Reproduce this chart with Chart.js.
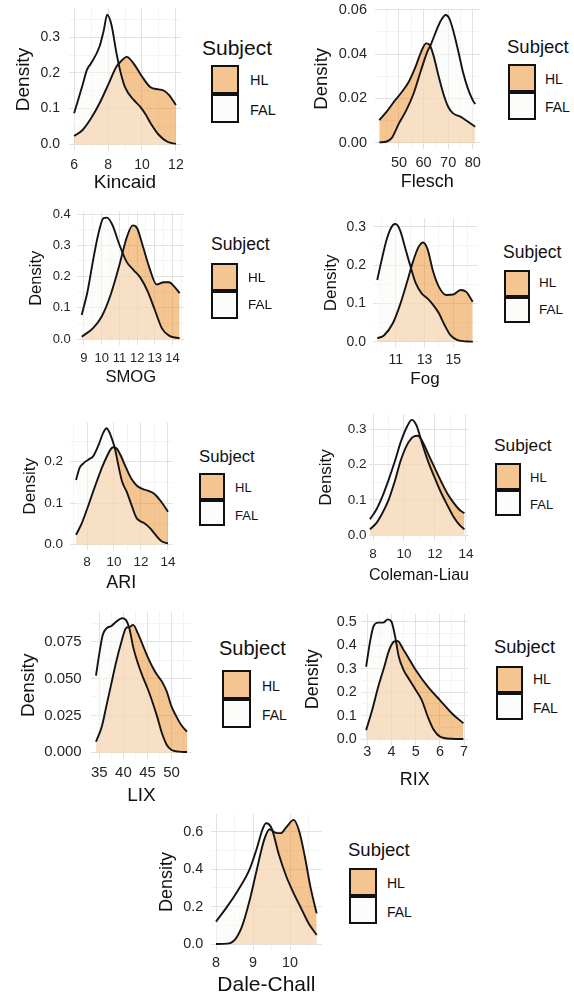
<!DOCTYPE html>
<html lang="en">
<head>
<meta charset="UTF-8">
<title>Readability density by subject</title>
<style>
  html, body { margin: 0; padding: 0; background: #fff; overflow: hidden; }
  body { position: relative; width: 574px; height: 994px; font-family: 'Liberation Sans', Arial, Helvetica, sans-serif; }
  canvas { position: absolute; }
  .lg-text { position: absolute; color: #111; white-space: nowrap; line-height: 1; }
  .lg-key { position: absolute; box-sizing: border-box; border: 2px solid #111; }
</style>
</head>
<body>
<script src="https://cdn.jsdelivr.net/npm/chart.js"></script>
<script>
// density curves, [score, density]
const kincaidHL  = [[6,0.023],[6.5,0.04],[7,0.073],[7.5,0.115],[8,0.166],[8.5,0.218],[8.75,0.232],[9.1,0.245],[9.5,0.227],[10,0.19],[10.5,0.16],[11,0.154],[11.3,0.15],[11.6,0.138],[12,0.11]];
const kincaidFAL = [[6,0.087],[6.5,0.166],[6.75,0.208],[7,0.227],[7.5,0.274],[7.75,0.32],[7.95,0.363],[8.2,0.335],[8.5,0.255],[8.75,0.2],[9,0.16],[9.5,0.125],[9.9,0.105],[10.2,0.085],[10.5,0.06],[11,0.026],[11.5,0.007],[12,0.001]];

const fleschHL  = [[42,0.0102],[45,0.014],[48,0.0185],[51,0.0226],[54,0.0275],[57,0.035],[59,0.041],[61,0.0448],[62.5,0.044],[64,0.0395],[66,0.0305],[68,0.0223],[70,0.0162],[72,0.0132],[75,0.0117],[78,0.0095],[81,0.0072]];
const fleschFAL = [[42,0.0001],[45,0.0005],[47,0.002],[50,0.0087],[53,0.0147],[56,0.0223],[59,0.0328],[61.5,0.041],[63,0.0444],[65,0.05],[67,0.055],[69,0.0576],[70.5,0.056],[72,0.0508],[74,0.0418],[76,0.032],[78,0.0245],[80,0.0192],[81,0.0174]];

const smogHL  = [[8.87,0.0075],[9.5,0.034],[10,0.072],[10.5,0.141],[11,0.237],[11.4,0.323],[11.75,0.364],[12,0.355],[12.3,0.302],[12.7,0.227],[13.1,0.175],[13.5,0.182],[13.8,0.182],[14.1,0.168],[14.4,0.147]];
const smogFAL = [[8.87,0.077],[9.2,0.152],[9.5,0.248],[9.8,0.334],[10.1,0.387],[10.3,0.389],[10.6,0.366],[11,0.302],[11.4,0.248],[11.8,0.221],[12.2,0.195],[12.6,0.152],[13,0.093],[13.4,0.034],[13.8,0.011],[14.4,0.002]];

const fogHL  = [[9.72,0.009],[10.2,0.017],[10.8,0.048],[11.3,0.096],[11.8,0.157],[12.2,0.209],[12.6,0.248],[12.9,0.259],[13.2,0.243],[13.6,0.183],[14,0.143],[14.5,0.122],[15,0.123],[15.5,0.135],[15.9,0.13],[16.35,0.104]];
const fogFAL = [[9.72,0.161],[10,0.209],[10.4,0.27],[10.8,0.304],[11,0.307],[11.3,0.291],[11.7,0.239],[12,0.2],[12.4,0.152],[12.8,0.126],[13.2,0.113],[13.6,0.096],[14,0.074],[14.4,0.043],[14.8,0.017],[15.3,0.004],[16,0.0005],[16.35,0]];

const ariHL  = [[7.19,0.023],[7.6,0.05],[7.98,0.083],[8.35,0.118],[8.72,0.152],[9.1,0.185],[9.46,0.212],[9.75,0.23],[9.95,0.235],[10.2,0.232],[10.5,0.215],[10.9,0.185],[11.3,0.158],[11.7,0.142],[12.1,0.134],[12.5,0.13],[13,0.122],[13.5,0.103],[14,0.079]];
const ariFAL = [[7.19,0.156],[7.45,0.185],[7.73,0.196],[8.1,0.205],[8.47,0.214],[8.85,0.24],[9.2,0.27],[9.45,0.281],[9.65,0.272],[9.85,0.255],[10.07,0.232],[10.3,0.195],[10.6,0.152],[10.93,0.128],[11.3,0.095],[11.65,0.065],[11.95,0.056],[12.3,0.05],[12.67,0.039],[13.1,0.022],[13.5,0.008],[14,0.002]];

const colemanHL  = [[7.8,0.016],[8.2,0.033],[8.6,0.062],[9,0.099],[9.4,0.152],[9.8,0.213],[10.2,0.256],[10.6,0.279],[10.9,0.282],[11.2,0.265],[11.6,0.227],[12,0.189],[12.4,0.152],[12.8,0.118],[13.2,0.092],[13.6,0.071],[13.9,0.062]];
const colemanFAL = [[7.8,0.045],[8.2,0.071],[8.6,0.109],[9,0.156],[9.4,0.208],[9.8,0.265],[10.2,0.308],[10.5,0.327],[10.8,0.312],[11.2,0.256],[11.6,0.204],[12,0.161],[12.4,0.12],[12.8,0.085],[13.2,0.052],[13.6,0.028],[13.9,0.016]];

const lixHL  = [[34.3,0.0072],[35.5,0.0174],[36.5,0.032],[37.5,0.0467],[38.5,0.0614],[39.5,0.0738],[40.5,0.084],[41.3,0.085],[42,0.0863],[43,0.0806],[44,0.0727],[45,0.0648],[46,0.058],[47,0.0524],[48,0.0479],[49,0.0411],[50,0.0309],[51,0.0242],[52,0.0185],[53.2,0.014]];
const lixFAL = [[34.3,0.052],[35,0.067],[35.7,0.0795],[36.5,0.084],[37.5,0.0856],[38.5,0.0885],[39.7,0.0908],[40.5,0.0897],[41.3,0.083],[42,0.0716],[43,0.0603],[44,0.0513],[45,0.0434],[46,0.0343],[47,0.0242],[48,0.0129],[49,0.005],[50,0.0016],[51.5,0.0005],[53.2,0.0002]];

const rixHL  = [[2.95,0.038],[3.2,0.124],[3.45,0.223],[3.7,0.308],[3.9,0.379],[4.1,0.415],[4.25,0.418],[4.5,0.379],[4.75,0.337],[5,0.294],[5.5,0.223],[6,0.166],[6.5,0.109],[6.97,0.067]];
const rixFAL = [[2.95,0.308],[3.1,0.408],[3.25,0.479],[3.45,0.496],[3.65,0.496],[3.85,0.51],[4,0.5],[4.15,0.436],[4.3,0.351],[4.5,0.294],[4.75,0.251],[5,0.209],[5.25,0.166],[5.5,0.095],[5.75,0.038],[6,0.01],[6.5,0.001],[6.97,0]];

const daleHL  = [[8,0],[8.3,0.002],[8.5,0.021],[8.7,0.093],[8.9,0.227],[9.1,0.396],[9.3,0.557],[9.45,0.614],[9.6,0.596],[9.75,0.593],[9.9,0.625],[10.1,0.664],[10.25,0.602],[10.4,0.468],[10.55,0.307],[10.72,0.164]];
const daleFAL = [[8,0.12],[8.3,0.2],[8.6,0.289],[8.9,0.396],[9.1,0.51],[9.25,0.61],[9.35,0.646],[9.5,0.62],[9.7,0.477],[9.9,0.361],[10.1,0.271],[10.3,0.191],[10.5,0.111],[10.72,0.048]];

// tick labels
const kincaidXTicks = ['6','8','10','12'];       const kincaidYTicks = ['0.0','0.1','0.2','0.3'];
const fleschXTicks  = ['50','60','70','80'];     const fleschYTicks  = ['0.00','0.02','0.04','0.06'];
const smogXTicks    = ['9','10','11','12','13','14']; const smogYTicks = ['0.0','0.1','0.2','0.3','0.4'];
const fogXTicks     = ['11','13','15'];          const fogYTicks     = ['0.0','0.1','0.2','0.3'];
const ariXTicks     = ['8','10','12','14'];      const ariYTicks     = ['0.0','0.1','0.2'];
const colemanXTicks = ['8','10','12','14'];      const colemanYTicks = ['0.0','0.1','0.2','0.3'];
const lixXTicks     = ['35','40','45','50'];     const lixYTicks     = ['0.000','0.025','0.050','0.075'];
const rixXTicks     = ['3','4','5','6','7'];     const rixYTicks     = ['0.0','0.1','0.2','0.3','0.4','0.5'];
const daleXTicks    = ['8','9','10'];            const daleYTicks    = ['0.0','0.2','0.4','0.6'];

const groups = ['HL', 'FAL'];

Chart.defaults.font.family = "'Liberation Sans', Arial, Helvetica, sans-serif";

const HL_FILL = 'rgba(235,140,35,0.5)';
const FAL_FILL = 'rgba(249,249,247,0.52)';
const LINE = '#141414';
const MAJOR = '#e2e2e2';
const MINOR = '#efefef';
const TICK = '#262626';

// major ticks from the labels, minor ones half way between (ggplot style)
function gridValues(labels, lo, hi) {
  const major = labels.map(Number);
  const step = major[1] - major[0];
  const vals = major.slice();
  for (let i = 0; i < major.length - 1; i++) vals.push((major[i] + major[i + 1]) / 2);
  vals.push(major[0] - step / 2, major[major.length - 1] + step / 2);
  const all = vals.filter(v => v >= lo && v <= hi).sort((a, b) => a - b);
  const idx = v => major.findIndex(m => Math.abs(m - v) < 1e-9);
  return {
    all,
    isMajor: v => idx(v) >= 0,
    label: v => (idx(v) >= 0 ? labels[idx(v)] : '')
  };
}

const panels = [
  {xTitle:'Kincaid', hl:kincaidHL, fal:kincaidFAL, xt:kincaidXTicks, yt:kincaidYTicks,
   x:[5.7,12.3], y:[-0.018,0.381], plot:[69,181,8.4,150.7], axisLeft:14.5, yPad:9, xPad:7.3, axisH:40.8, tick:14, ySize:19, xSize:19,
   lg:{sx:202, sy:47, ss:21, bx:211, by:65, bw:28, bh:29, lx:250, ly:[80,110], ls:14.5}},
  {xTitle:'Flesch', hl:fleschHL, fal:fleschFAL, xt:fleschXTicks, yt:fleschYTicks,
   x:[40.05,82.95], y:[-0.00288,0.0605], plot:[374.5,480,8.6,149], axisLeft:312.75, yPad:7.5, xPad:7, axisH:42, tick:14.5, ySize:18.5, xSize:18,
   lg:{sx:507, sy:47, ss:18.5, bx:508, by:64, bw:28, bh:28, lx:545, ly:[79,107], ls:14}},
  {xTitle:'SMOG', hl:smogHL, fal:smogFAL, xt:smogXTicks, yt:smogYTicks,
   x:[8.6,14.68], y:[-0.0195,0.4085], plot:[76.9,184.6,211.5,345.1], axisLeft:28.45, yPad:6.2, xPad:6.4, axisH:40.2, tick:13, ySize:16.5, xSize:16.6,
   lg:{sx:211, sy:245, ss:17.6, bx:211, by:263, bw:27, bh:28, lx:248, ly:[278,305], ls:13.5}},
  {xTitle:'Fog', hl:fogHL, fal:fogFAL, xt:fogXTicks, yt:fogYTicks,
   x:[9.39,16.68], y:[-0.0154,0.322], plot:[372.5,477.5,218.3,347.6], axisLeft:323.2, yPad:6.5, xPad:5.4, axisH:39.9, tick:14, ySize:17, xSize:17,
   lg:{sx:503, sy:253, ss:17.5, bx:504, by:270, bw:26, bh:26.5, lx:539, ly:[283,310], ls:13.5}},
  {xTitle:'ARI', hl:ariHL, fal:ariFAL, xt:ariXTicks, yt:ariYTicks,
   x:[6.74,14.35], y:[-0.014,0.295], plot:[70,172.7,422.5,550.1], axisLeft:21.5, yPad:7, xPad:5.9, axisH:41.9, tick:13.5, ySize:17, xSize:18,
   lg:{sx:199, sy:457, ss:16.7, bx:199, by:473, bw:26, bh:26.5, lx:235, ly:[487,515], ls:13}},
  {xTitle:'Coleman-Liau', hl:colemanHL, fal:colemanFAL, xt:colemanXTicks, yt:colemanYTicks,
   x:[7.74,14.2], y:[-0.0164,0.343], plot:[369,469,414.2,540.8], axisLeft:318.2, yPad:2.5, xPad:7.2, axisH:42.4, tick:13.5, ySize:17, xSize:16.4,
   lg:{sx:494, sy:446, ss:17.3, bx:495, by:463, bw:26, bh:26.5, lx:530, ly:[477,504], ls:13}},
  {xTitle:'LIX', hl:lixHL, fal:lixFAL, xt:lixXTicks, yt:lixYTicks,
   x:[33.35,54.15], y:[-0.0045,0.0953], plot:[91.4,191.6,611.6,759], axisLeft:18.8, yPad:9.7, xPad:6.5, axisH:45.5, tick:15, ySize:19, xSize:19,
   lg:{sx:219, sy:648, ss:20, bx:221.7, by:670, bw:29, bh:29, lx:262, ly:[686,715], ls:14}},
  {xTitle:'RIX', hl:rixHL, fal:rixFAL, xt:rixXTicks, yt:rixYTicks,
   x:[2.75,7.17], y:[-0.0255,0.5355], plot:[361.3,468.2,613.4,745], axisLeft:304.3, yPad:4.6, xPad:0, axisH:44, tick:14.4, ySize:18, xSize:18,
   lg:{sx:494, sy:647, ss:18.3, bx:496, by:666, bw:27, bh:27, lx:533, ly:[679,708], ls:14}},
  {xTitle:'Dale-Chall', hl:daleHL, fal:daleFAL, xt:daleXTicks, yt:daleYTicks,
   x:[7.864,10.856], y:[-0.033,0.697], plot:[211,321.7,813.7,950.2], axisLeft:157.7, yPad:7.7, xPad:5.9, axisH:45.3, tick:14.4, ySize:18, xSize:21,
   lg:{sx:348, sy:850, ss:18.5, bx:349, by:868, bw:28, bh:28, lx:387, ly:[883,912], ls:14}}
];

function makePanel(p) {
  const [l, r, t, b] = p.plot;
  const PAD = 20;
  const left = Math.floor(p.axisLeft);
  const top = Math.floor(t - PAD);
  const width = Math.ceil(r + PAD - left);
  const height = Math.ceil(b + p.axisH - top);

  const cv = document.createElement('canvas');
  cv.width = width; cv.height = height;
  cv.style.left = left + 'px'; cv.style.top = top + 'px';
  cv.style.width = width + 'px'; cv.style.height = height + 'px';
  document.body.appendChild(cv);

  const xg = gridValues(p.xt, p.x[0], p.x[1]);
  const yg = gridValues(p.yt, p.y[0], p.y[1]);
  const gridOpts = g => ({
    drawTicks: false,
    color: c => (c.tick && g.isMajor(c.tick.value) ? MAJOR : MINOR),
    lineWidth: c => (c.tick && g.isMajor(c.tick.value) ? 1 : 0.7)
  });
  const tickFont = {size: p.tick, lineHeight: 1};
  const line = (name, pts, fill) => ({
    label: name,
    data: pts.map(([x, y]) => ({x, y})),
    borderColor: LINE,
    borderWidth: 1.9,
    backgroundColor: fill,
    fill: 'origin',
    pointRadius: 0,
    cubicInterpolationMode: 'monotone'
  });

  new Chart(cv, {
    type: 'line',
    data: {datasets: [line('FAL', p.fal, FAL_FILL), line('HL', p.hl, HL_FILL)]},
    options: {
      responsive: false,
      animation: false,
      events: [],
      layout: {padding: {left: 0, top: t - top, right: width - (r - left), bottom: 0}},
      plugins: {
        legend: {display: false},
        tooltip: {enabled: false},
        filler: {drawTime: 'beforeDatasetsDraw'}
      },
      scales: {
        x: {
          type: 'linear', bounds: 'data', min: p.x[0], max: p.x[1],
          afterBuildTicks: s => { s.ticks = xg.all.map(v => ({value: v})); },
          afterFit: s => { s.height = height - (b - top); },
          grid: gridOpts(xg),
          border: {display: false},
          ticks: {padding: p.xPad, font: tickFont, color: TICK, maxRotation: 0, autoSkip: false, callback: v => xg.label(v)},
          title: {display: true, text: p.xTitle, color: '#111', font: {size: p.xSize, lineHeight: 1}, padding: {top: 0, bottom: 0}}
        },
        y: {
          type: 'linear', bounds: 'data', min: p.y[0], max: p.y[1],
          afterBuildTicks: s => { s.ticks = yg.all.map(v => ({value: v})); },
          afterFit: s => { s.width = l - left; },
          grid: gridOpts(yg),
          border: {display: false},
          ticks: {padding: p.yPad, font: tickFont, color: TICK, autoSkip: false, callback: v => yg.label(v)},
          title: {display: true, text: 'Density', color: '#111', font: {size: p.ySize, lineHeight: 1}, padding: {top: p.axisLeft - left, bottom: 0}}
        }
      }
    }
  });
}

function addText(txt, x, cy, size) {
  const d = document.createElement('div');
  d.className = 'lg-text';
  d.textContent = txt;
  d.style.left = x + 'px';
  d.style.top = (cy - size / 2) + 'px';
  d.style.fontSize = size + 'px';
  document.body.appendChild(d);
}

function makeLegend(g) {
  addText('Subject', g.sx, g.sy, g.ss);
  [HL_FILL, FAL_FILL].forEach((fill, i) => {
    const k = document.createElement('div');
    k.className = 'lg-key';
    k.style.left = g.bx + 'px';
    k.style.top = (g.by + i * g.bh) + 'px';
    k.style.width = g.bw + 'px';
    k.style.height = g.bh + 'px';
    k.style.background = fill;
    document.body.appendChild(k);
    addText(groups[i], g.lx, g.ly[i], g.ls);
  });
}

panels.forEach(p => { makePanel(p); makeLegend(p.lg); });
</script>
</body>
</html>
